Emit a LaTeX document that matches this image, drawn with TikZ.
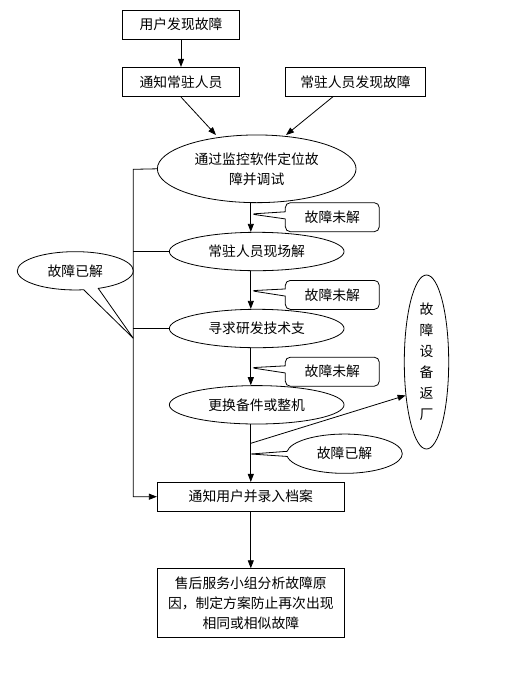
\documentclass[tikz,border=0pt]{standalone}
\usepackage{fontspec}
\setmainfont{Noto Sans CJK SC}
\usetikzlibrary{shapes.geometric,shapes.callouts,arrows.meta}
\begin{document}
\begin{tikzpicture}[x=1pt,y=-1pt,line width=0.8pt,font=\fontsize{13.8}{20}\selectfont,>={Triangle[length=8pt,width=6pt]}]
\tikzstyle{box}=[rectangle,draw,inner sep=0pt,align=center]
\tikzstyle{oval}=[ellipse,draw,inner sep=0pt,align=center,minimum width=174.7pt,minimum height=38.4pt]
\tikzstyle{note}=[rectangle callout,draw,rounded corners=5pt,inner sep=0pt,minimum width=94pt,minimum height=29pt]
\tikzstyle{saynote}=[ellipse callout,draw,inner sep=0pt]
\useasboundingbox[fill=white] (0,0) rectangle (515,673);

  \node[box,minimum width=116.6pt,minimum height=29.3pt] (userfind) at (181,24.7) {用户发现故障};
  \node[box,minimum width=116.6pt,minimum height=29.3pt] (tellstaff) at (181,82) {通知常驻人员};
  \node[box,minimum width=140.4pt,minimum height=29.3pt] (stafffind) at (355.5,82) {常驻人员发现故障};
  \node[oval,minimum width=198.7pt,minimum height=67.7pt] (monitor) at (256.7,168.8) {通过监控软件定位故\\障并调试};
  \node[oval] (onsite) at (256.7,251.5) {常驻人员现场解};
  \node[oval] (rdhelp) at (256.7,328.5) {寻求研发技术支};
  \node[oval] (replace) at (256.7,404.8) {更换备件或整机};
  \node[box,minimum width=187pt,minimum height=28.7pt] (notify) at (250.8,496.7) {通知用户并录入档案};
  \node[box,minimum width=187pt,minimum height=68.6pt,font=\fontsize{13.8}{20}\selectfont] (analyse) at (250.8,603) {售后服务小组分析故障原\\因，制定方案防止再次出现\\相同或相似故障};
  \node[ellipse,draw,inner sep=0pt,align=center,minimum width=44.4pt,minimum height=174pt,font=\fontsize{13.8}{21}\selectfont] (return) at (426.5,362) {故\\障\\设\\备\\返\\厂};

  \coordinate (tip1) at (250.8,214);
  \coordinate (tip2) at (250.8,290.7);
  \coordinate (tip3) at (250.8,367.7);
  \coordinate (tip4) at (250.8,454);
  \coordinate (tip5) at (133.3,338.3);
  \coordinate (split) at (250.8,443.3);
  \coordinate (spine) at (133.3,169.3);
  \node[note,callout absolute pointer={(tip1)}] (unsolved1) at (332.3,217.2) {故障未解};
  \node[note,callout absolute pointer={(tip2)}] (unsolved2) at (332.3,294.9) {故障未解};
  \node[note,callout absolute pointer={(tip3)}] (unsolved3) at (332.3,371.7) {故障未解};
  \node[saynote,minimum width=115.6pt,minimum height=39.3pt,callout absolute pointer={(tip4)}] (solved2) at (344.5,453.7) {故障已解};
  \node[saynote,minimum width=116pt,minimum height=38.3pt,callout absolute pointer={(tip5)}] (solved1) at (75.3,270.8) {故障已解};

  \draw[->] (userfind) -- (tellstaff);
  \draw[->] (tellstaff.south) -- (216,135);
  \draw[->] (333,96.7) -- (286,135);
  \draw[->] (monitor.south -| notify.north) -- (onsite.north -| notify.north);
  \draw[->] (onsite.south -| notify.north) -- (rdhelp.north -| notify.north);
  \draw[->] (rdhelp.south -| notify.north) -- (replace.north -| notify.north);
  \draw[->] (replace.south -| notify.north) -- (notify.north);
  \draw[->] (split) -- (return.238);
  \draw[->] (monitor.west) -- (spine) |- (notify.west);
  \draw (onsite.west) -- (onsite.west -| spine);
  \draw (rdhelp.west) -- (rdhelp.west -| spine);
  \draw[->] (notify) -- (analyse);
\end{tikzpicture}
\end{document}
